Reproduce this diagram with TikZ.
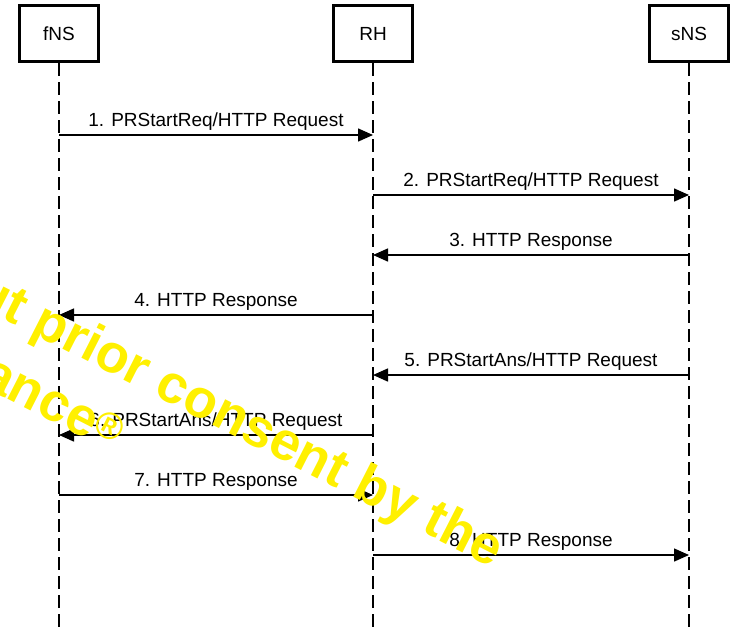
\documentclass[tikz,border=0pt]{standalone}
\usepackage{fontspec}
\setmainfont{Liberation Sans}
\usetikzlibrary{arrows.meta}
\definecolor{wmyellow}{RGB}{255,240,0}
\begin{document}
\begin{tikzpicture}[x=1pt,y=-1pt,
  actor/.style={draw=black, line width=3pt, minimum width=79pt, minimum height=56pt, inner sep=0pt, font=\fontsize{19}{23}\selectfont},
  lifeline/.style={line width=1.5pt, dash pattern=on 13pt off 6pt},
  msg/.style={line width=1.5pt, -{Triangle[length=15pt,width=13pt]}},
  lbl/.style={anchor=base, inner sep=0pt, yshift=9pt, font=\fontsize{19}{23}\selectfont},
  wm/.style={anchor=base west, inner sep=0pt, rotate=-27, text=wmyellow, font=\fontsize{54}{60}\selectfont\bfseries}]
\useasboundingbox (0,0) rectangle (730,627);
\begin{scope}
\clip (0,0) rectangle (730,627);
% actors
\node[actor] (fNS) at (59,33.5) {fNS};
\node[actor] (RH)  at (373,33.5) {RH};
\node[actor] (sNS) at (689,33.5) {sNS};
% lifeline ends
\coordinate (fEnd) at (59,627);
\coordinate (rEnd) at (373,627);
\coordinate (sEnd) at (689,627);
\draw[lifeline] (fNS.south) -- (fEnd);
\draw[lifeline] (RH.south) -- (rEnd);
\draw[lifeline] (sNS.south) -- (sEnd);
% message rows
\coordinate (r1) at (0,135);
\coordinate (r2) at (0,195);
\coordinate (r3) at (0,255);
\coordinate (r4) at (0,315);
\coordinate (r5) at (0,375);
\coordinate (r6) at (0,435);
\coordinate (r7) at (0,495);
\coordinate (r8) at (0,555);
\draw[msg] (fNS |- r1) -- node[lbl] (l1) {1. PRStartReq/HTTP Request} (RH |- r1);
\draw[msg] (RH |- r2) -- node[lbl] (l2) {2. PRStartReq/HTTP Request} (sNS |- r2);
\draw[msg] (sNS |- r3) -- node[lbl] (l3) {3. HTTP Response} (RH |- r3);
\draw[msg] (RH |- r4) -- node[lbl] (l4) {4. HTTP Response} (fNS |- r4);
\draw[msg] (sNS |- r5) -- node[lbl] (l5) {5. PRStartAns/HTTP Request} (RH |- r5);
\draw[msg] (RH |- r6) -- node[lbl] (l6) {6. PRStartAns/HTTP Request} (fNS |- r6);
\draw[msg] (fNS |- r7) -- node[lbl] (l7) {7. HTTP Response} (RH |- r7);
\draw[msg] (RH |- r8) -- node[lbl] (l8) {8. HTTP Response} (sNS |- r8);
% watermark
\node[wm] (wm1) at (-29,302) {ut prior consent by the};
\node[wm] (wm2) at (-22,384) {ance\textsuperscript{®}};
\end{scope}
\end{tikzpicture}
\end{document}
